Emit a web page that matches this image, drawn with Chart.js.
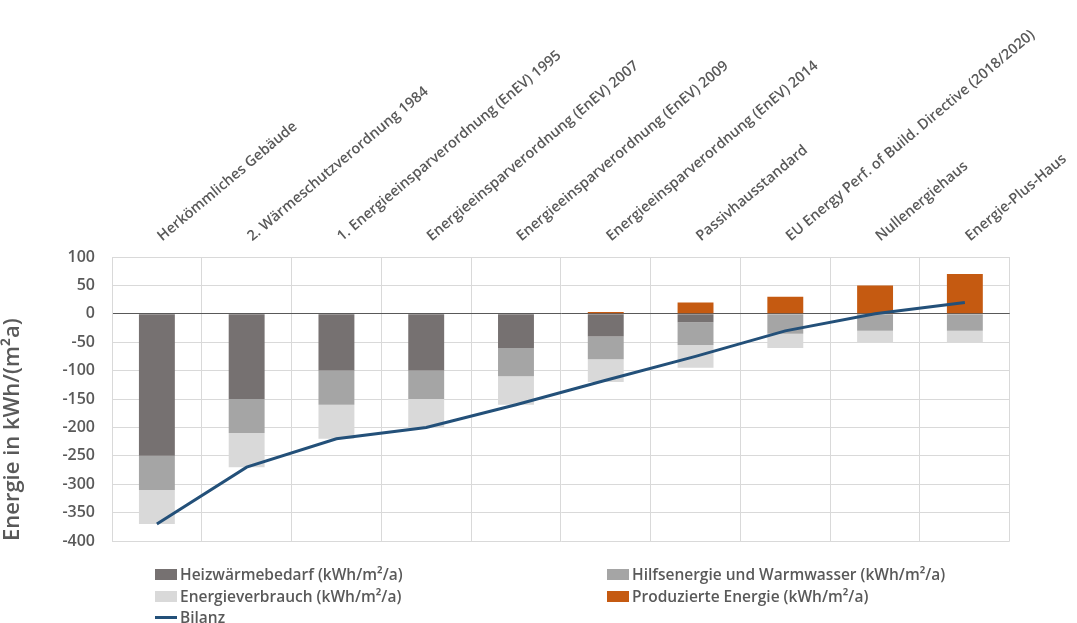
<!DOCTYPE html>
<html>
<head>
<meta charset="utf-8">
<script src="https://cdn.jsdelivr.net/npm/chart.js@4.4.1/dist/chart.umd.min.js"></script>
<style>
  body { margin: 0; background: #fff; }
  #wrap { position: relative; width: 1077px; height: 623px; }
  #legend { position: absolute; left: 0; top: 0; width: 100%; height: 100%; pointer-events: none;
            font-family: "Open Sans", sans-serif; font-size: 15.5px; font-weight: 600; color: #595959; }
  .item { position: absolute; display: flex; align-items: center; white-space: nowrap; }
  .box { width: 22px; height: 11px; margin-right: 3px; }
  .ln { width: 22px; height: 3px; margin-right: 3px; }
</style>
</head>
<body>
<div id="wrap">
  <canvas id="myChart" width="1077" height="623"></canvas>
  <div id="legend"></div>
</div>
<script>
// Kategorien (Gebäudestandards)
const kategorien = [
    'Herkömmliches Gebäude',
    '2. Wärmeschutzverordnung 1984',
    '1. Energieeinsparverordnung (EnEV) 1995',
    'Energieeinsparverordnung (EnEV) 2007',
    'Energieeinsparverordnung (EnEV) 2009',
    'Energieeinsparverordnung (EnEV) 2014',
    'Passivhausstandard',
    'EU Energy Perf. of Build. Directive (2018/2020)',
    'Nullenergiehaus',
    'Energie-Plus-Haus'
];

// Werte in kWh/(m²a)
const heizwaerme   = [-250, -150, -100, -100, -60, -40, -15,   0,   0,   0];
const hilfsenergie = [ -60,  -60,  -60,  -50, -50, -40, -40, -35, -30, -30];
const verbrauch    = [ -60,  -60,  -60,  -50, -50, -40, -40, -25, -20, -20];
const produziert   = [   0,    0,    0,    0,   0,   3,  20,  30,  50,  70];
const bilanz       = [-370, -270, -220, -200, -160, -117, -75, -30,  0,  20];

const yMin = -400, yMax = 100, yStep = 50;

const textFarbe = '#595959';
const schrift = '"Open Sans", sans-serif';

const ctx = document.getElementById('myChart').getContext('2d');
const chart = new Chart(ctx, {
    data: {
        labels: kategorien,
        datasets: [
            { type: 'bar', label: 'Heizwärmebedarf (kWh/m²/a)', data: heizwaerme, backgroundColor: '#767171', stack: 's' },
            { type: 'bar', label: 'Hilfsenergie und Warmwasser (kWh/m²/a)', data: hilfsenergie, backgroundColor: '#a5a5a5', stack: 's' },
            { type: 'bar', label: 'Energieverbrauch (kWh/m²/a)', data: verbrauch, backgroundColor: '#d9d9d9', stack: 's' },
            { type: 'bar', label: 'Produzierte Energie (kWh/m²/a)', data: produziert, backgroundColor: '#c55a11', stack: 's' },
            { type: 'line', label: 'Bilanz', data: bilanz, borderColor: '#235079', backgroundColor: '#235079',
              borderWidth: 3, pointRadius: 0, tension: 0, stack: 'b', order: -1 }
        ]
    },
    options: {
        responsive: false,
        animation: false,
        layout: { padding: { top: 0, left: 0, right: 65, bottom: 82 } },
        datasets: { bar: { categoryPercentage: 1, barPercentage: 0.4 } },
        plugins: {
            legend: { display: false },
            tooltip: { enabled: false }
        },
        scales: {
            x: {
                position: 'top',
                stacked: true,
                afterFit: function(s) { s.height = 257; },
                grid: { color: '#d9d9d9', drawTicks: false, offset: true },
                border: { color: '#d9d9d9' },
                ticks: {
                    color: textFarbe, font: { family: schrift, size: 14.5, weight: '600' },
                    minRotation: 40, maxRotation: 40, padding: 12, labelOffset: 14, autoSkip: false
                }
            },
            y: {
                stacked: true,
                min: yMin, max: yMax,
                afterFit: function(s) { s.width = 112; },
                grid: {
                    drawTicks: false,
                    color: function(c) { return c.tick && c.tick.value === 0 ? '#595959' : '#d9d9d9'; }
                },
                border: { color: '#d9d9d9' },
                ticks: { stepSize: yStep, color: textFarbe, font: { family: schrift, size: 16, weight: '600' }, padding: 17 },
                title: {
                    display: true, text: 'Energie in kWh/(m²a)', align: 'start',
                    color: textFarbe, font: { family: schrift, size: 22, weight: '600' }, padding: { top: 0, bottom: 0 }
                }
            }
        }
    }
});

// Legende in zwei Spalten
const legende = document.getElementById('legend');
const plaetze = [[155, 563], [607, 563], [155, 585], [607, 585], [155, 606]];
chart.data.datasets.forEach(function(ds, i) {
    const el = document.createElement('div');
    el.className = 'item';
    el.style.left = plaetze[i][0] + 'px';
    el.style.top = plaetze[i][1] + 'px';
    const m = document.createElement('span');
    m.className = ds.type === 'line' ? 'ln' : 'box';
    m.style.background = ds.type === 'line' ? ds.borderColor : ds.backgroundColor;
    el.appendChild(m);
    el.appendChild(document.createTextNode(ds.label));
    legende.appendChild(el);
});
</script>
</body>
</html>
